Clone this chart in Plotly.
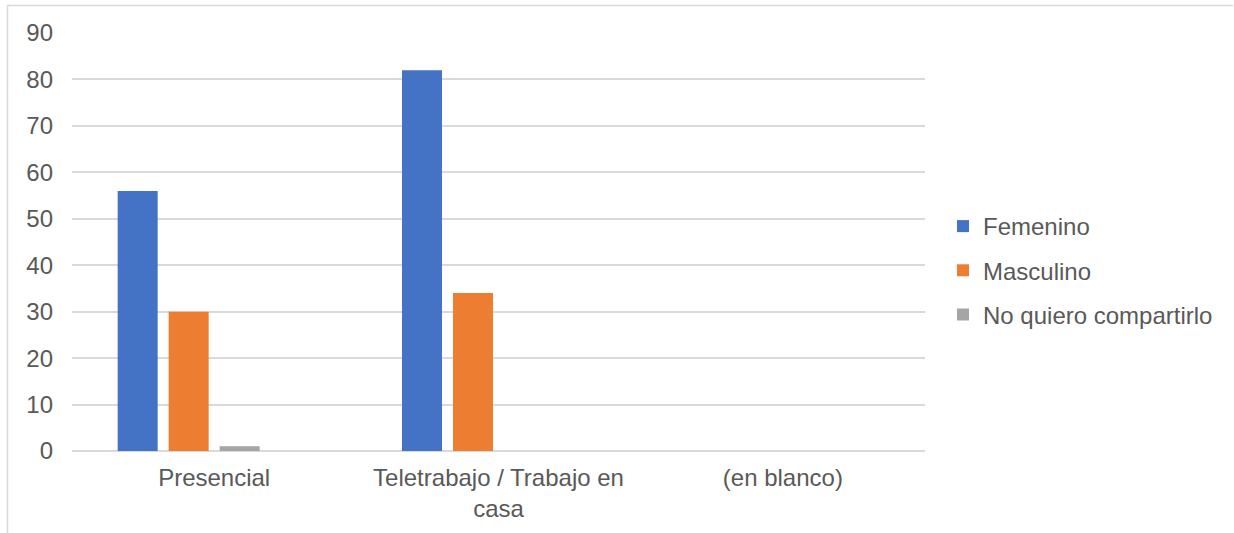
import plotly.graph_objects as go

categories = ["Presencial", "Teletrabajo / Trabajo en<br>casa", "(en blanco)"]
femenino = [56, 82, 0]
masculino = [30, 34, 0]
no_quiero = [1, 0, 0]
series_names = ["Femenino", "Masculino", "No quiero compartirlo"]
y_ticks = [0, 10, 20, 30, 40, 50, 60, 70, 80, 90]

colors = ["#4472C4", "#ED7D31", "#A5A5A5"]
FONT = "Liberation Sans, Arial, sans-serif"
TXT = "#595959"
FS = 24

# plot-area geometry (pixels)
L, R, T, B = 72, 925, 33, 451
W, H = 1234, 533
pw, ph = R - L, B - T

cat_px = pw / 3.0
bar_w = 40 / cat_px
slot = 51 / cat_px
start = -(4 * slot) / 2 + (slot - bar_w) / 2  # 4 slots (incl. hidden blank series)

fig = go.Figure()
for i, (name, vals) in enumerate(zip(series_names, [femenino, masculino, no_quiero])):
    fig.add_trace(go.Bar(
        x=list(range(len(categories))), y=vals, name=name,
        marker=dict(color=colors[i], line=dict(width=0)),
        width=bar_w, offset=start + i * slot,
        legendgroup=name,
    ))

def px_x(px):
    return (px - L) / pw

def px_y(py):
    return (B - py) / ph

fig.update_layout(
    width=W, height=H,
    margin=dict(l=L, r=W - R, t=T, b=H - B, pad=0),
    paper_bgcolor="white", plot_bgcolor="white",
    font=dict(family=FONT, size=FS, color=TXT),
    barmode="overlay",
    showlegend=True,
    legend=dict(
        x=px_x(943), y=px_y(204), xanchor="left", yanchor="top",
        font=dict(family=FONT, size=FS, color=TXT),
        traceorder="grouped", tracegroupgap=10,
        itemwidth=30, bgcolor="rgba(0,0,0,0)",
    ),
    xaxis=dict(
        tickmode="array", tickvals=list(range(len(categories))), ticktext=categories,
        range=[-0.5, 2.5], showgrid=False, zeroline=False, showline=False,
        ticks="", tickfont=dict(family=FONT, size=FS, color=TXT),
        ticklabelstandoff=10,
    ),
    yaxis=dict(
        range=[0, 90], tickmode="array", tickvals=y_ticks,
        showgrid=True, gridcolor="#D9D9D9", gridwidth=1.5,
        zeroline=True, zerolinecolor="#D9D9D9", zerolinewidth=1.5,
        showline=False, ticks="",
        tickfont=dict(family=FONT, size=FS, color=TXT),
        ticklabelstandoff=18,
    ),
    shapes=[
        dict(type="line", xref="paper", yref="paper",
             x0=px_x(7), x1=px_x(1233), y0=px_y(5.5), y1=px_y(5.5),
             line=dict(color="#D9D9D9", width=1.5)),
        dict(type="line", xref="paper", yref="paper",
             x0=px_x(7.5), x1=px_x(7.5), y0=px_y(5.5), y1=px_y(533),
             line=dict(color="#D9D9D9", width=1.5)),
    ],
)

fig.write_html("out.html")
